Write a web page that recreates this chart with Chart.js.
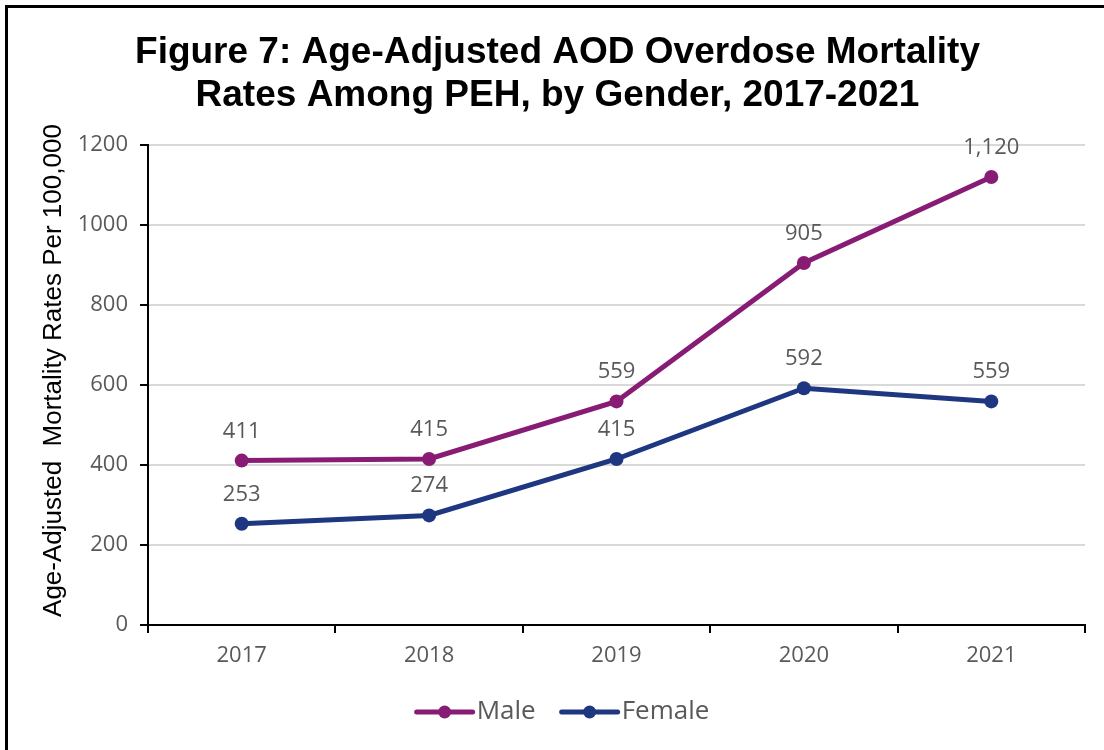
<!DOCTYPE html>
<html>
<head>
<meta charset="utf-8">
<title>Figure 7</title>
<script src="https://cdn.jsdelivr.net/npm/chart.js@4.4.1/dist/chart.umd.min.js"></script>
<style>
  html, body { margin: 0; padding: 0; background: #fff; }
  #wrap { position: relative; width: 1104px; height: 750px; overflow: hidden; }
  #frame { position: absolute; left: 5px; top: 5px; right: -10px; bottom: -10px;
           border-top: 3px solid #000; border-left: 3px solid #000; }
  canvas { position: absolute; left: 0; top: 0; }
</style>
</head>
<body>
<div id="wrap">
  <div id="frame"></div>
  <canvas id="chart" width="1104" height="750"></canvas>
</div>
<script>
// ===== 数据 =====
const years = ['2017', '2018', '2019', '2020', '2021'];
const maleRates = [411, 415, 559, 905, 1120];
const femaleRates = [253, 274, 415, 592, 559];
const seriesNames = ['Male', 'Female'];

const MALE_COLOR = '#881C74';
const FEMALE_COLOR = '#1E3780';
const GRAY = '#595959';

// value labels above each point
const pointLabels = {
  id: 'pointLabels',
  afterDatasetsDraw(chart) {
    const { ctx } = chart;
    ctx.save();
    ctx.font = "22px 'Open Sans'";
    ctx.fillStyle = GRAY;
    ctx.textAlign = 'center';
    ctx.textBaseline = 'alphabetic';
    chart.data.datasets.forEach((ds, i) => {
      chart.getDatasetMeta(i).data.forEach((pt, j) => {
        ctx.fillText(ds.data[j].toLocaleString('en-US'), pt.x, pt.y - 23);
      });
    });
    ctx.restore();
  },
};

// legend below the x axis: line-with-dot marker, then the series name
const lineLegend = {
  id: 'lineLegend',
  afterDraw(chart) {
    const { ctx, chartArea } = chart;
    const lineLen = 60;
    const textGap = 2;
    const itemGap = 24;
    ctx.save();
    ctx.font = "26px 'Open Sans'";
    ctx.textBaseline = 'middle';
    ctx.textAlign = 'left';
    const items = chart.data.datasets.map((ds) => ({
      text: ds.label,
      color: ds.borderColor,
      w: lineLen + textGap + ctx.measureText(ds.label).width,
    }));
    const total = items.reduce((s, it) => s + it.w, 0) + itemGap * (items.length - 1);
    let x = chart.width / 2 + 10 - total / 2;
    const y = chartArea.bottom + 87;
    items.forEach((it) => {
      ctx.strokeStyle = it.color;
      ctx.lineWidth = 5;
      ctx.lineCap = 'round';
      ctx.beginPath();
      ctx.moveTo(x + 2, y);
      ctx.lineTo(x + lineLen - 2, y);
      ctx.stroke();
      ctx.fillStyle = it.color;
      ctx.beginPath();
      ctx.arc(x + lineLen / 2, y, 6.5, 0, Math.PI * 2);
      ctx.fill();
      ctx.fillStyle = GRAY;
      ctx.fillText(it.text, x + lineLen + textGap, y);
      x += it.w + itemGap;
    });
    ctx.restore();
  },
};

function lineDataset(label, data, color) {
  return {
    label,
    data,
    borderColor: color,
    backgroundColor: color,
    borderWidth: 5,
    pointRadius: 7,
    pointHoverRadius: 7,
    pointBackgroundColor: color,
    pointBorderColor: color,
    pointBorderWidth: 0,
    tension: 0,
    fill: false,
  };
}

new Chart(document.getElementById('chart'), {
  type: 'line',
  data: {
    labels: years,
    datasets: [
      lineDataset(seriesNames[0], maleRates, MALE_COLOR),
      lineDataset(seriesNames[1], femaleRates, FEMALE_COLOR),
    ],
  },
  plugins: [pointLabels, lineLegend],
  options: {
    responsive: false,
    animation: false,
    events: [],
    layout: { padding: { top: 20, left: 30, right: 19, bottom: 72 } },
    scales: {
      x: {
        offset: true,
        grid: {
          offset: true,
          drawOnChartArea: false,
          color: '#000',
          lineWidth: 2,
          tickLength: 8,
        },
        border: { color: '#000', width: 2 },
        ticks: {
          color: GRAY,
          padding: 10,
          font: { size: 22, family: "'Open Sans'" },
        },
        afterFit: (scale) => { scale.height = 53; },
      },
      y: {
        min: 0,
        max: 1200,
        ticks: {
          stepSize: 200,
          color: GRAY,
          padding: 12,
          font: { size: 22, family: "'Open Sans'" },
          callback: (value) => String(value),
        },
        grid: {
          color: '#d9d9d9',
          lineWidth: 2,
          tickColor: '#000',
          tickLength: 8,
        },
        border: { color: '#000', width: 2 },
        title: {
          display: true,
          text: '    Age-Adjusted  Mortality Rates Per 100,000',
          color: '#000',
          padding: { top: 8, bottom: 0 },
          font: { size: 26, family: "'Liberation Sans', Arial, sans-serif" },
        },
        afterFit: (scale) => { scale.width = 118; },
      },
    },
    plugins: {
      title: {
        display: true,
        text: ['Figure 7: Age-Adjusted AOD Overdose Mortality', 'Rates Among PEH, by Gender, 2017-2021'],
        color: '#000',
        padding: { top: 11, bottom: 28 },
        font: { size: 37, weight: 'bold', lineHeight: 43 / 37, family: "'Liberation Sans', Arial, sans-serif" },
      },
      legend: { display: false },
      tooltip: { enabled: false },
    },
  },
});
</script>
</body>
</html>
